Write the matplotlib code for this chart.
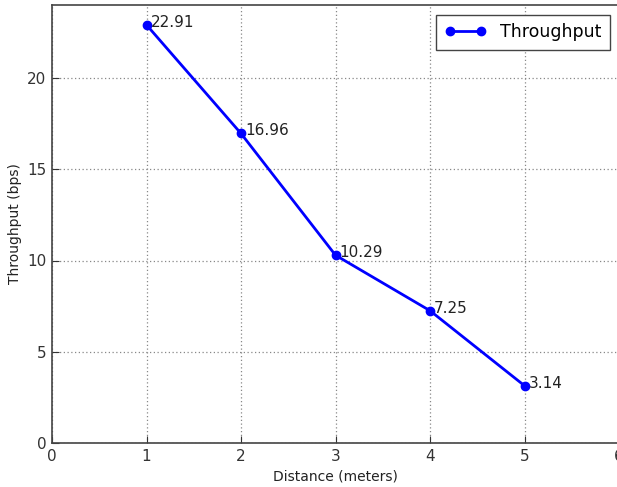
import matplotlib
matplotlib.use('Agg')
import matplotlib.pyplot as plt

# 距離ごとのスループット
distance = [1, 2, 3, 4, 5]
throughput = [22.91, 16.96, 10.29, 7.25, 3.14]

plt.rcParams['font.family'] = 'DejaVu Sans'
plt.rcParams['xtick.direction'] = 'in'
plt.rcParams['ytick.direction'] = 'in'

fig = plt.figure(figsize=(6.17, 4.87), dpi=100)
ax = fig.add_axes([52 / 617, 44 / 487, 567 / 617, 438 / 487])

ax.plot(distance, throughput, color='#0000ff', linewidth=2, marker='o',
        markersize=6, label='Throughput')

# 各点に値を表示
for x, y in zip(distance, throughput):
    ax.annotate(f'{y:.2f}', (x, y), xytext=(3, -3.5), textcoords='offset points',
                fontsize=11, color='#222222', va='bottom', ha='left')

ax.set_xlim(0, 6)
ax.set_ylim(0, 24)
ax.set_yticks([0, 5, 10, 15, 20])
ax.set_xticks([0, 1, 2, 3, 4, 5, 6])
ax.tick_params(labelsize=11, length=5, colors='#333333', pad=4)
ax.grid(True, color='#888888', linestyle=(0, (1, 2)), linewidth=0.9)
for s in ax.spines.values():
    s.set_color('#444444')
    s.set_linewidth(1.2)

ax.set_xlabel('Distance (meters)', fontsize=10, color='#222222')
ax.set_ylabel('Throughput (bps)', fontsize=10, color='#222222')
ax.legend(loc='upper right', numpoints=2, fancybox=False, fontsize=12.5,
          framealpha=1, edgecolor='#444444', borderaxespad=0.0,
          handlelength=2.4, borderpad=0.5,
          bbox_to_anchor=(0.985, 0.978))

fig.savefig('out.png', dpi=100)
